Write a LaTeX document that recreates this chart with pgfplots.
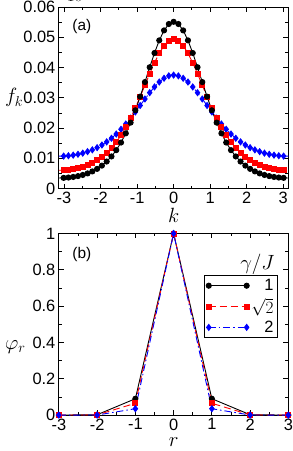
\documentclass[border=0pt]{standalone}
\usepackage{pgfplots}
\pgfplotsset{compat=1.18}
\usepackage{fontspec}
\setmainfont{Liberation Sans}
\pgfplotstableread{
k black red blue
-3.1416 0.00350 0.00604 0.01070
-3.0107 0.00354 0.00608 0.01074
-2.8798 0.00365 0.00621 0.01085
-2.7489 0.00384 0.00643 0.01105
-2.6180 0.00412 0.00675 0.01134
-2.4871 0.00450 0.00718 0.01171
-2.3562 0.00501 0.00773 0.01220
-2.2253 0.00567 0.00844 0.01279
-2.0944 0.00652 0.00933 0.01352
-1.9635 0.00759 0.01042 0.01440
-1.8326 0.00894 0.01176 0.01543
-1.7017 0.01062 0.01337 0.01663
-1.5708 0.01270 0.01530 0.01802
-1.4399 0.01522 0.01759 0.01959
-1.3090 0.01825 0.02024 0.02134
-1.1781 0.02180 0.02328 0.02326
-1.0472 0.02586 0.02666 0.02532
-0.9163 0.03037 0.03032 0.02745
-0.7854 0.03519 0.03414 0.02960
-0.6545 0.04009 0.03796 0.03168
-0.5236 0.04479 0.04157 0.03358
-0.3927 0.04897 0.04473 0.03521
-0.2618 0.05226 0.04720 0.03645
-0.1309 0.05438 0.04877 0.03724
0.0000 0.05511 0.04931 0.03750
0.1309 0.05438 0.04877 0.03724
0.2618 0.05226 0.04720 0.03645
0.3927 0.04897 0.04473 0.03521
0.5236 0.04479 0.04157 0.03358
0.6545 0.04009 0.03796 0.03168
0.7854 0.03519 0.03414 0.02960
0.9163 0.03037 0.03032 0.02745
1.0472 0.02586 0.02666 0.02532
1.1781 0.02180 0.02328 0.02326
1.3090 0.01825 0.02024 0.02134
1.4399 0.01522 0.01759 0.01959
1.5708 0.01270 0.01530 0.01802
1.7017 0.01062 0.01337 0.01663
1.8326 0.00894 0.01176 0.01543
1.9635 0.00759 0.01042 0.01440
2.0944 0.00652 0.00933 0.01352
2.2253 0.00567 0.00844 0.01279
2.3562 0.00501 0.00773 0.01220
2.4871 0.00450 0.00718 0.01171
2.6180 0.00412 0.00675 0.01134
2.7489 0.00384 0.00643 0.01105
2.8798 0.00365 0.00621 0.01085
3.0107 0.00354 0.00608 0.01074
3.1416 0.00350 0.00604 0.01070
}\fk
\pgfplotstableread{
r black red blue
-3 0.000 0.000 0.000
-2 0.002 0.001 0.0003
-1 0.090 0.065 0.035
0 1.000 1.000 1.000
1 0.090 0.065 0.035
2 0.002 0.001 0.0003
3 0.000 0.000 0.000
}\phir
\begin{document}
\begin{tikzpicture}
\pgfplotsset{
  every axis/.append style={
    scale only axis, width=230bp, height=182bp,
    tick align=inside, major tick length=5bp, minor tick length=3bp,
    axis line style={line width=0.9bp},
    every tick/.style={line width=0.8bp, black},
    tick label style={font=\fontsize{16.5}{18}\selectfont},
    label style={font=\fontsize{22}{24}\selectfont},
  },
  blk/.style={black, line width=0.9bp, mark=*, mark size=2.6bp, mark options={solid}},
  rd/.style={red, line width=0.9bp, dashed, dash pattern=on 7bp off 4bp, mark=square*, mark size=2.5bp, mark options={solid}},
  bl/.style={blue, line width=0.9bp, dash pattern=on 7bp off 3bp on 1.5bp off 3bp, mark=diamond*, mark size=3bp, mark options={solid}},
  legend image code/.code={\draw[#1, mark repeat=2, mark phase=1] plot coordinates {(0bp,0bp) (19bp,0bp) (38bp,0bp)};},
}
\begin{axis}[
  at={(0,227bp)}, anchor=south west,
  xmin=-3.14159, xmax=3.14159, ymin=0, ymax=0.06,
  xtick={-3,-2,-1,0,1,2,3}, xticklabels={-3,-2,-1,0,1,2,3},
  minor xtick={-2.5,-1.5,-0.5,0.5,1.5,2.5},
  ytick={0,0.01,0.02,0.03,0.04,0.05,0.06},
  yticklabels={0,0.01,0.02,0.03,0.04,0.05,0.06},
  minor ytick={0.005,0.015,0.025,0.035,0.045,0.055},
  xlabel={$k$}, ylabel={$f_k$},
  xlabel style={at={(axis description cs:0.5,-0.15)}, anchor=center},
  ylabel style={at={(axis description cs:-0.195,0.5)}, rotate=-90, anchor=center},
]
\addplot[bl] table[x=k,y=blue] {\fk};
\addplot[rd] table[x=k,y=red] {\fk};
\addplot[blk] table[x=k,y=black] {\fk};
\node[font=\fontsize{15.5}{17}\selectfont] at (rel axis cs:0.1,0.89) {(a)};
\end{axis}
\begin{axis}[
  at={(0,0)}, anchor=south west,
  xmin=-3, xmax=3, ymin=0, ymax=1,
  xtick={-3,-2,-1,0,1,2,3}, xticklabels={-3,-2,-1,0,1,2,3},
  minor xtick={-2.5,-1.5,-0.5,0.5,1.5,2.5},
  ytick={0,0.2,0.4,0.6,0.8,1}, yticklabels={0,0.2,0.4,0.6,0.8,1},
  minor ytick={0.1,0.3,0.5,0.7,0.9},
  xlabel={$r$}, ylabel={$\varphi_r$},
  xlabel style={at={(axis description cs:0.5,-0.15)}, anchor=center},
  ylabel style={at={(axis description cs:-0.19,0.374)}, rotate=-90, anchor=center},
  legend cell align=right,
  legend style={at={(rel axis cs:0.952,0.769)}, anchor=north east, draw=black, line width=0.8bp,
    font=\fontsize{16.5}{18}\selectfont, row sep=2bp, inner sep=1.5bp},
]
\addplot[blk] table[x=r,y=black] {\phir};
\addplot[rd] table[x=r,y=red] {\phir};
\addplot[bl] table[x=r,y=blue] {\phir};
\legend{1,$\sqrt{2}$,2}
\node[font=\fontsize{20}{22}\selectfont, anchor=east] at (rel axis cs:0.955,0.83) {$\gamma/J$};
\node[font=\fontsize{15.5}{17}\selectfont] at (rel axis cs:0.1,0.885) {(b)};
\end{axis}
\pgfresetboundingbox
\path[use as bounding box] (-59bp,-36bp) rectangle (234bp,416bp);
\end{tikzpicture}
\end{document}
